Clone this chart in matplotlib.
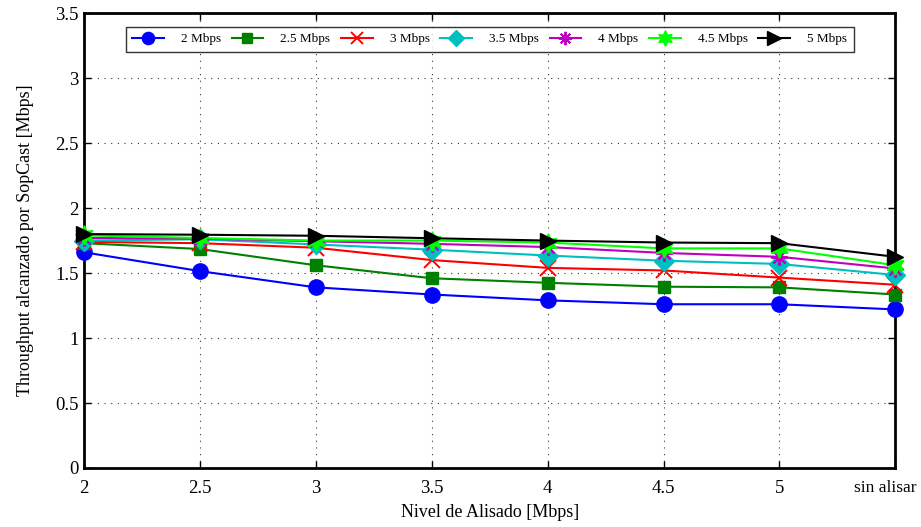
import matplotlib
matplotlib.use("Agg")
import matplotlib.pyplot as plt
import matplotlib.transforms as mtransforms
from matplotlib.ticker import FixedLocator

plt.rcParams['font.family'] = ['Liberation Serif', 'DejaVu Serif']

# Smoothing levels (x axis categories)
levels = ["2", "2.5", "3", "3.5", "4", "4.5", "5", "sin alisar"]

# Throughput reached by SopCast for each injected bitrate [Mbps]
thr_2_0 = [1.66, 1.515, 1.39, 1.335, 1.29, 1.26, 1.26, 1.22]
thr_2_5 = [1.73, 1.685, 1.56, 1.46, 1.425, 1.395, 1.39, 1.335]
thr_3_0 = [1.74, 1.73, 1.695, 1.60, 1.54, 1.52, 1.465, 1.41]
thr_3_5 = [1.75, 1.76, 1.72, 1.68, 1.635, 1.595, 1.57, 1.485]
thr_4_0 = [1.77, 1.765, 1.745, 1.725, 1.70, 1.655, 1.625, 1.535]
thr_4_5 = [1.79, 1.77, 1.75, 1.75, 1.735, 1.69, 1.69, 1.56]
thr_5_0 = [1.80, 1.795, 1.787, 1.768, 1.75, 1.735, 1.73, 1.625]

series_labels = ["2 Mbps", "2.5 Mbps", "3 Mbps", "3.5 Mbps", "4 Mbps", "4.5 Mbps", "5 Mbps"]
series = [thr_2_0, thr_2_5, thr_3_0, thr_3_5, thr_4_0, thr_4_5, thr_5_0]
colors = ["#0000ff", "#008000", "#ff0000", "#00bfbf", "#bf00bf", "#00ff00", "#000000"]
markers = ["o", "s", "x", "D", (8, 2, 0), (6, 1, 0), ">"]
sizes = [11, 9, 11, 10, 12, 14, 12]

fig = plt.figure(figsize=(9.21, 5.27), dpi=100)
ax = fig.add_axes([0.0912, 0.112, 0.881, 0.863])

x = list(range(len(levels)))
for vals, lab, c, m, ms in zip(series, series_labels, colors, markers, sizes):
    kw = dict(color=c, marker=m, markersize=ms, linewidth=1.5, label=lab,
              markerfacecolor=c, markeredgecolor=c)
    if m == "x" or m == (8, 2, 0):
        kw.update(markeredgewidth=1.4)
    ax.plot(x, vals, clip_on=False, zorder=3, **kw)

ax.set_xlim(0, len(levels) - 1)
ax.set_ylim(0, 3.5)
ax.set_xticks(x)
ax.set_xticklabels(levels)
ax.yaxis.set_major_locator(FixedLocator([0, 0.5, 1, 1.5, 2, 2.5, 3, 3.5]))
ax.set_yticklabels(["0", "0.5", "1", "1.5", "2", "2.5", "3", "3.5"])
ax.tick_params(direction="in", length=5, width=1, labelsize=13.5,
               top=True, right=True)
ax.tick_params(axis="y", pad=4)
ax.tick_params(axis="x", pad=9)

# keep the last category label inside the figure
last = ax.get_xticklabels()[-1]
last.set_fontsize(12.5)
last.set_transform(last.get_transform() +
                   mtransforms.ScaledTranslation(-10 / 100, 0, fig.dpi_scale_trans))

ax.grid(True, color="black", linestyle=(0, (1, 5)), linewidth=0.8, alpha=0.8)
for sp in ax.spines.values():
    sp.set_linewidth(2)

ax.set_xlabel("Nivel de Alisado [Mbps]", fontsize=13, labelpad=5)
ax.set_ylabel("Throughput alcanzado por SopCast [Mbps]", fontsize=13, labelpad=15)

leg = ax.legend(loc="upper center", bbox_to_anchor=(0.5, 0.985), ncol=7,
                fontsize=9.5, frameon=True, fancybox=False, edgecolor="black",
                handlelength=2.4, columnspacing=0.8, handletextpad=1.3,
                borderpad=0.5, markerscale=0.8)
leg.get_frame().set_linewidth(1.0)

fig.savefig("out.png", dpi=100)
